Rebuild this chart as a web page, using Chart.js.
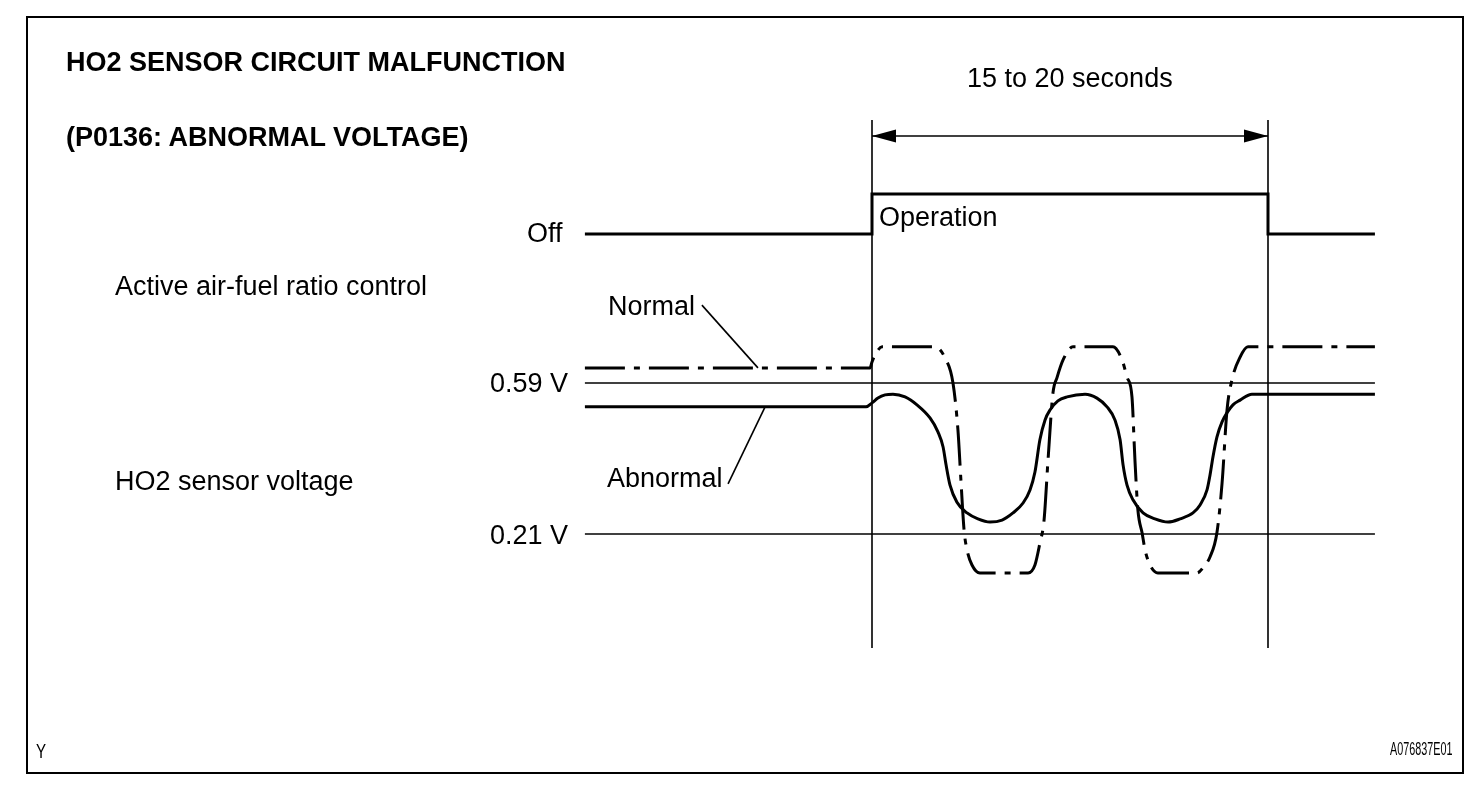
<!DOCTYPE html>
<html>
<head>
<meta charset="utf-8">
<title>HO2 sensor circuit malfunction</title>
<script src="https://cdn.jsdelivr.net/npm/chart.js@4/dist/chart.umd.min.js"></script>
<style>
  body { margin: 0; background: #fff; }
  #wrap { position: relative; width: 1472px; height: 786px; overflow: hidden; }
  #frame { position: absolute; left: 26px; top: 16px; width: 1434px; height: 754px; border: 2px solid #000; }
  canvas { position: absolute; left: 0; top: 0; }
  .lbl { position: absolute; font-family: "Liberation Sans", Arial, sans-serif; font-size: 27px; line-height: 27px; color: #000; white-space: nowrap; }
  .bold { font-weight: bold; }
  .small { transform-origin: left top; }
</style>
</head>
<body>
<div id="wrap">
  <div id="frame"></div>
  <canvas id="diagram" width="1472" height="786"></canvas>
  <div class="lbl bold" style="left:66px; top:49px;">HO2 SENSOR CIRCUIT MALFUNCTION</div>
  <div class="lbl bold" style="left:66px; top:124px;">(P0136: ABNORMAL VOLTAGE)</div>
  <div class="lbl" style="left:967px; top:65px;">15 to 20 seconds</div>
  <div class="lbl" style="left:879px; top:204px;">Operation</div>
  <div class="lbl" style="left:527px; top:220px;">Off</div>
  <div class="lbl" style="left:115px; top:273px;">Active air-fuel ratio control</div>
  <div class="lbl" style="left:608px; top:293px;">Normal</div>
  <div class="lbl" style="left:490px; top:370px;">0.59 V</div>
  <div class="lbl" style="left:115px; top:468px;">HO2 sensor voltage</div>
  <div class="lbl" style="left:607px; top:465px;">Abnormal</div>
  <div class="lbl" style="left:490px; top:522px;">0.21 V</div>
  <div class="lbl small" style="left:36px; top:740px; font-size:21px; line-height:21px; transform:scaleX(0.72);">Y</div>
  <div class="lbl small" style="left:1390px; top:740px; font-size:18px; line-height:18px; transform:scaleX(0.6);">A076837E01</div>
</div>
<script>
// Time in seconds, 0 = start of active air-fuel ratio control
const ctrlTimes = [-14.5, 0, 20, 25.4];
const ctrlStates = [0, 1, 0, 0];       // 0 = Off, 1 = Operation

const refLevels = [0.59, 0.21];        // V
const refSpan = [-14.5, 25.4];

// Normal HO2 sensor voltage (dash-dot)
const normalT = [-14.5, -0.1, 0, 0.2, 0.51, 3.18, 3.69, 4.09, 4.34, 4.49, 4.65, 4.8, 5.05, 5.45,
  7.88, 8.23, 8.48, 8.69, 8.89, 9.14, 9.34, 9.65, 10.15, 12.17, 12.63, 12.88, 13.13, 13.28, 13.43,
  13.64, 13.79, 14.04, 14.44, 16.41, 16.82, 17.07, 17.42, 17.68, 17.93, 18.18, 18.59, 18.99, 25.4];
const normalV = [0.628, 0.628, 0.643, 0.665, 0.681, 0.681, 0.653, 0.59, 0.472, 0.346, 0.22, 0.17, 0.132, 0.112,
  0.112, 0.132, 0.187, 0.245, 0.396, 0.565, 0.603, 0.648, 0.681, 0.681, 0.648, 0.605, 0.555, 0.396, 0.27,
  0.213, 0.17, 0.132, 0.112, 0.112, 0.132, 0.152, 0.213, 0.338, 0.522, 0.598, 0.655, 0.681, 0.681];

// Abnormal HO2 sensor voltage (solid)
const abnormalT = [-14.5, -0.3, 0, 0.3, 0.66, 1.06, 1.67, 2.27, 2.93, 3.33, 3.59, 3.74, 3.94, 4.29, 4.8, 5.35,
  5.96, 6.57, 7.12, 7.63, 7.98, 8.23, 8.48, 8.74, 8.99, 9.39, 9.85, 10.76, 11.36, 11.87, 12.27, 12.53,
  12.68, 12.88, 13.18, 13.69, 14.29, 14.95, 15.56, 16.21, 16.57, 16.92, 17.07, 17.22, 17.42, 17.68,
  17.93, 18.23, 18.59, 19.19, 25.4];
const abnormalV = [0.53, 0.53, 0.54, 0.552, 0.56, 0.562, 0.555, 0.535, 0.502, 0.467, 0.429, 0.384, 0.333, 0.29, 0.263, 0.248,
  0.24, 0.245, 0.263, 0.288, 0.321, 0.366, 0.447, 0.497, 0.522, 0.545, 0.555, 0.562, 0.552, 0.53, 0.497, 0.447,
  0.384, 0.333, 0.296, 0.263, 0.248, 0.24, 0.248, 0.263, 0.283, 0.321, 0.358, 0.404, 0.454, 0.492,
  0.515, 0.535, 0.547, 0.562, 0.562];

// Operation window markers and "15 to 20 seconds" dimension
const windowTimes = [0, 20];
const markerSpan = [1.252, -0.077];   // V (vertical extent of marker lines)
const dimLevel = 2.45;                // on control axis

// Leader lines for labels
const normalLeaderT = [-8.59, -5.76];
const normalLeaderV = [0.786, 0.628];
const abnormalLeaderT = [-7.27, -5.4];
const abnormalLeaderV = [0.336, 0.53];

function pts(xs, ys) {
  return xs.map((x, i) => ({ x: x, y: ys[i] }));
}

// scale ranges so the hidden axes line up with the drawing
const W = 1472, H = 786;
const pxPerSec = 396 / 20;
const tMin = -872 / pxPerSec;
const pxPerV = 151 / (refLevels[0] - refLevels[1]);
const vMax = refLevels[0] + 383 / pxPerV;
const pxPerState = 40;
const cMax = 234 / pxPerState;

// arrowheads on the dimension line
const arrowPlugin = {
  id: 'arrows',
  afterDatasetsDraw(chart) {
    const idx = chart.data.datasets.findIndex(d => d.label === 'dimension');
    const meta = chart.getDatasetMeta(idx);
    const a = meta.data[0], b = meta.data[meta.data.length - 1];
    const ctx = chart.ctx;
    ctx.save();
    ctx.fillStyle = '#000';
    [[a, 1], [b, -1]].forEach(([p, dir]) => {
      ctx.beginPath();
      ctx.moveTo(p.x, p.y);
      ctx.lineTo(p.x + dir * 24, p.y - 6.5);
      ctx.lineTo(p.x + dir * 24, p.y + 6.5);
      ctx.closePath();
      ctx.fill();
    });
    ctx.restore();
  }
};

function thin(label, data, yAxis) {
  return { label: label, data: data, yAxisID: yAxis, borderColor: '#000', borderWidth: 1.6, tension: 0 };
}

const datasets = [
  { label: 'Active air-fuel ratio control', data: pts(ctrlTimes, ctrlStates), yAxisID: 'ctrl',
    stepped: 'before', borderColor: '#000', borderWidth: 3 },
  { label: 'Normal', data: pts(normalT, normalV), yAxisID: 'volt', borderColor: '#000', borderWidth: 3,
    borderDash: [40, 9, 6, 9], cubicInterpolationMode: 'monotone' },
  { label: 'Abnormal', data: pts(abnormalT, abnormalV), yAxisID: 'volt', borderColor: '#000', borderWidth: 3,
    cubicInterpolationMode: 'monotone' },
  thin('0.59 V', pts(refSpan, [refLevels[0], refLevels[0]]), 'volt'),
  thin('0.21 V', pts(refSpan, [refLevels[1], refLevels[1]]), 'volt'),
  thin('start', pts([windowTimes[0], windowTimes[0]], markerSpan), 'volt'),
  thin('end', pts([windowTimes[1], windowTimes[1]], markerSpan), 'volt'),
  thin('dimension', pts(windowTimes, [dimLevel, dimLevel]), 'ctrl'),
  thin('normal leader', pts(normalLeaderT, normalLeaderV), 'volt'),
  thin('abnormal leader', pts(abnormalLeaderT, abnormalLeaderV), 'volt')
];

new Chart(document.getElementById('diagram'), {
  type: 'scatter',
  data: { datasets: datasets },
  plugins: [arrowPlugin],
  options: {
    responsive: false,
    animation: false,
    devicePixelRatio: 1,
    showLine: true,
    layout: { padding: 0 },
    elements: { point: { radius: 0, hoverRadius: 0 }, line: { borderCapStyle: 'butt', fill: false } },
    plugins: { legend: { display: false }, tooltip: { enabled: false }, title: { display: false } },
    events: [],
    scales: {
      x: { type: 'linear', display: false, min: tMin, max: tMin + W / pxPerSec },
      volt: { type: 'linear', display: false, min: vMax - H / pxPerV, max: vMax },
      ctrl: { type: 'linear', display: false, min: cMax - H / pxPerState, max: cMax }
    }
  }
});
</script>
</body>
</html>
